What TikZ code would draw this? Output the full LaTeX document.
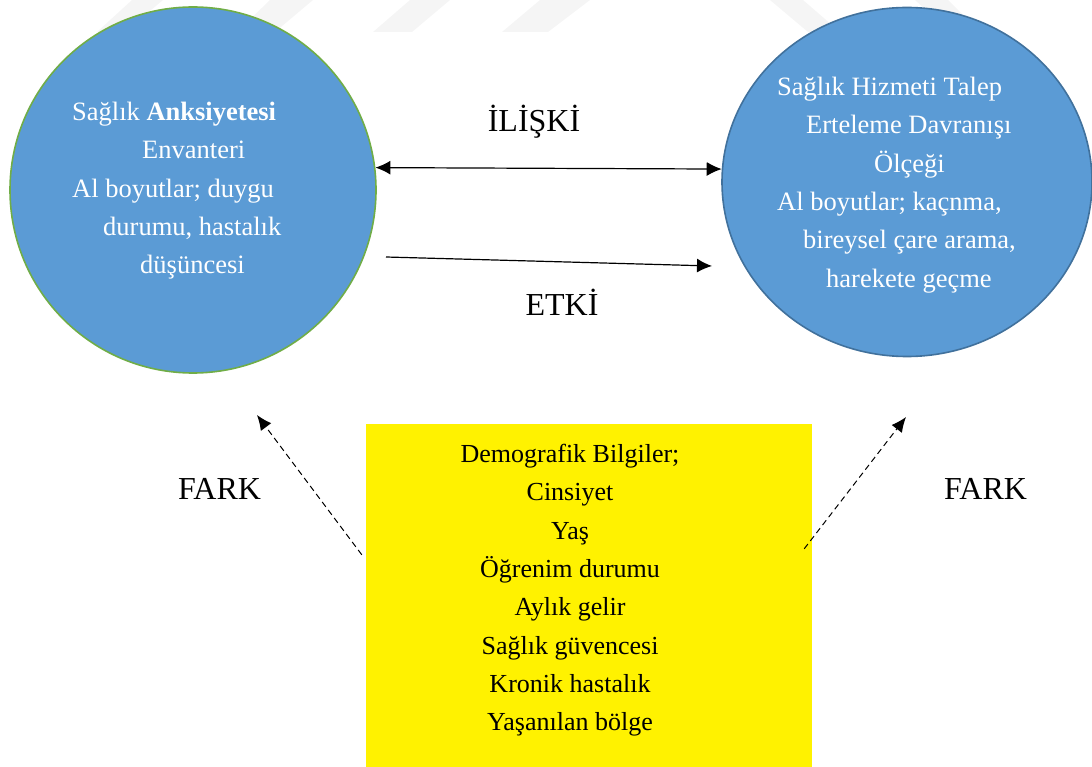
\documentclass[tikz,border=0pt]{standalone}
\usepackage{fontspec}
\setmainfont{Liberation Serif}
\usetikzlibrary{arrows.meta,shapes.geometric}

\definecolor{daireMavi}{HTML}{5B9BD5}
\definecolor{cizgiYesil}{HTML}{70AD47}
\definecolor{cizgiMavi}{HTML}{41719C}

\begin{document}
\begin{tikzpicture}[x=1pt, y=-1pt,
    daire/.style = {fill=daireMavi, line width=1.6pt, inner sep=0pt},
    olcek/.style = {text=white, font=\fontsize{26.5}{38.3}\selectfont, align=left, inner sep=0pt, anchor=north west},
    etiket/.style = {font=\fontsize{32}{38}\selectfont, inner sep=0pt, anchor=base},
    ok/.style = {-{Latex[length=15pt, width=14pt]}, line width=1.2pt},
    ciftok/.style = {{Latex[length=15pt, width=14pt]}-{Latex[length=15pt, width=14pt]}, line width=1.2pt},
    farkok/.style = {-{Latex[length=15pt, width=13pt]}, line width=1pt, dash pattern=on 6pt off 4pt},
    wm/.style = {fill=black!4}]
        \useasboundingbox (0,0) rectangle (1092,767);
        \fill[wm] (97,32) -- (125,32) -- (163,0) -- (132,0) -- cycle;
        \fill[wm] (237,32) -- (275,32) -- (313,0) -- (270,0) -- cycle;
        \fill[wm] (373,32) -- (412,32) -- (450,0) -- (410,0) -- cycle;
        \fill[wm] (502,32) -- (548,32) -- (590,0) -- (540,0) -- cycle;
        \fill[wm] (770,0) -- (803,0) -- (840,32) -- (808,32) -- cycle;
        \fill[wm] (915,0) -- (948,0) -- (980,32) -- (950,32) -- cycle;
        \node[daire, circle, draw=cizgiYesil, minimum size=366pt] (anksiyete) at (193,190) {};
        \node[daire, ellipse, draw=cizgiMavi, minimum width=370pt, minimum height=349pt] (erteleme) at (907,182) {};
        \node[olcek] (anksiyeteYazi) at (72,102) {Sağlık \textbf{Anksiyetesi}\\
            \hspace*{70pt}Envanteri\\
            Al boyutlar; duygu\\
            \hspace*{31pt}durumu, hastalık\\
            \hspace*{68pt}düşüncesi};
        \node[olcek] (ertelemeYazi) at (777,77) {Sağlık Hizmeti Talep\\
            \hspace*{29pt}Erteleme Davranışı\\
            \hspace*{97pt}Ölçeği\\
            Al boyutlar; kaçnma,\\
            \hspace*{26pt}bireysel çare arama,\\
            \hspace*{49pt}harekete geçme};
        \node[fill=yellow, minimum width=446pt, minimum height=343pt, inner sep=0pt] (demografik) at (589,595.5) {};
        \node[align=center, font=\fontsize{26}{38.3}\selectfont, inner sep=0pt, anchor=north] (demografikYazi) at (570,444) {Demografik Bilgiler;\\
            Cinsiyet\\ Yaş\\ Öğrenim durumu\\ Aylık gelir\\ Sağlık güvencesi\\ Kronik hastalık\\ Yaşanılan bölge};
        \node[etiket] (iliski) at (534,132) {İLİŞKİ};
        \node[etiket] (etki) at (562,316) {ETKİ};
        \node[etiket] (farkSol) at (219.5,499) {FARK};
        \node[etiket] (farkSag) at (985.5,499) {FARK};
        \coordinate (etkiBas) at (386,257);
        \coordinate (etkiSon) at (712,266);
        \coordinate (farkSolUc) at (257,415);
        \coordinate (farkSagUc) at (906,417);
        \draw[ciftok] (anksiyete.7.5) -- (erteleme.176.3);
        \draw[ok] (etkiBas) -- (etkiSon);
        \draw[farkok] ([shift={(-4,131)}]demografik.north west) -- (farkSolUc);
        \draw[farkok] ([shift={(-8,125)}]demografik.north east) -- (farkSagUc);
\end{tikzpicture}
\end{document}
